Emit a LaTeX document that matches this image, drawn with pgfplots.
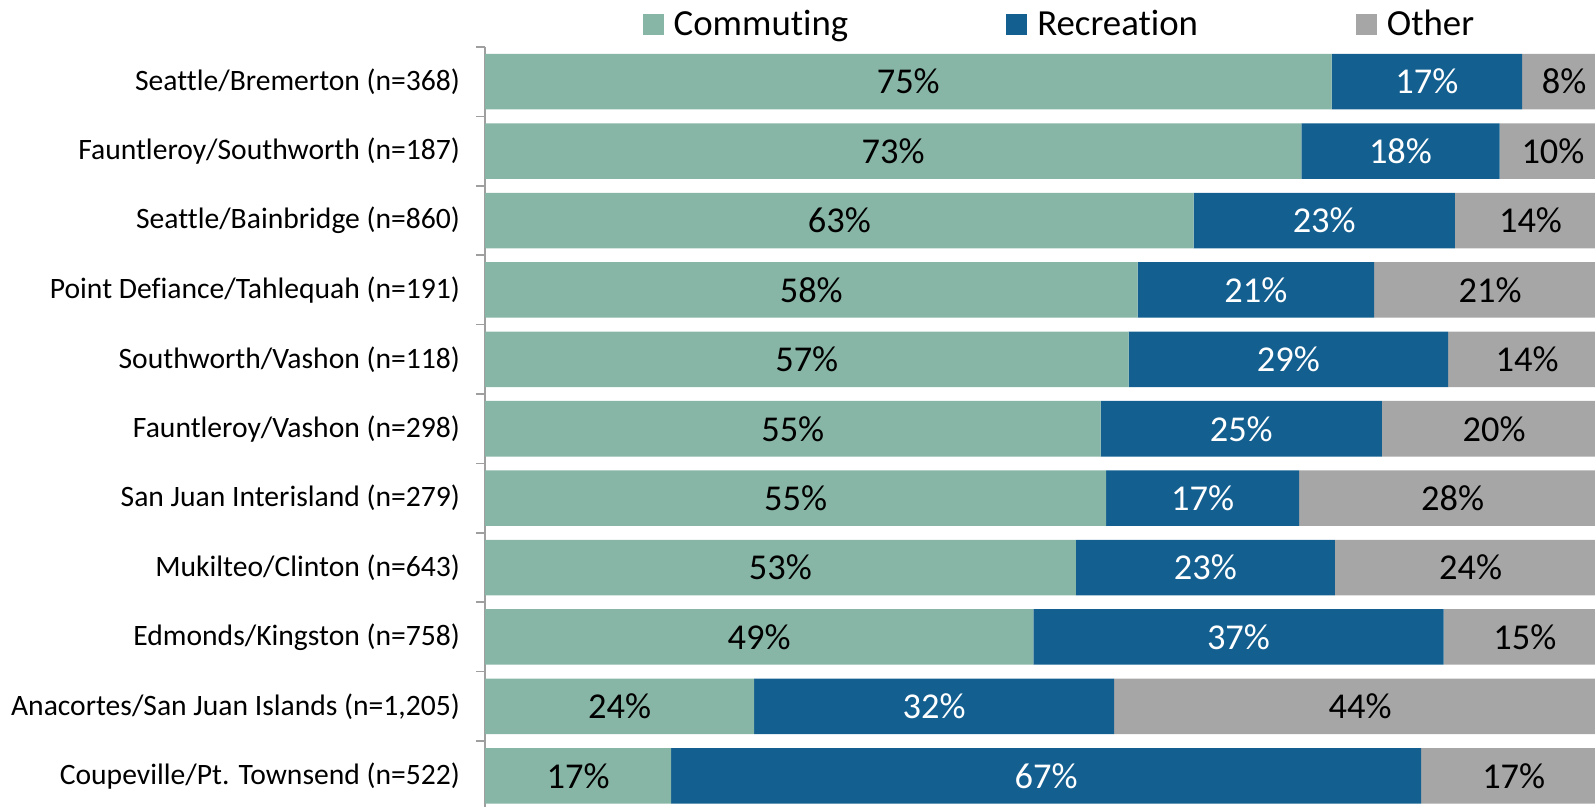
\documentclass[border=0pt]{standalone}
\usepackage{pgfplots}
\pgfplotsset{compat=1.18}
\usepackage{fontspec}
\setmainfont[Ligatures=NoCommon]{Carlito}
\definecolor{commute}{HTML}{88B6A6}
\definecolor{recreat}{HTML}{135F90}
\definecolor{othergr}{HTML}{A6A6A6}

\pgfplotsset{
  frame/.style={
    scale only axis, width=555pt, height=380pt,
    xmin=0, xmax=99, ymin=-0.5, ymax=10.45, y dir=reverse,
  },
  lbl/.style={
    draw=none, mark=none, nodes near coords, point meta=explicit symbolic,
    every node near coord/.append style={anchor=center, font=\fontsize{18.2}{20}\selectfont, text=#1},
  },
}

\begin{document}
\begin{tikzpicture}
\begin{axis}[
    frame,
    xbar stacked, bar width=0.8,
    axis x line=none, axis y line*=left,
    y axis line style={draw=gray!75, line width=0.8pt},
    ytick={0,...,10},
    yticklabels={
      {Seattle/Bremerton (n=368)},
      {Fauntleroy/Southworth (n=187)},
      {Seattle/Bainbridge (n=860)},
      {Point Defiance/Tahlequah (n=191)},
      {Southworth/Vashon (n=118)},
      {Fauntleroy/Vashon (n=298)},
      {San Juan Interisland (n=279)},
      {Mukilteo/Clinton (n=643)},
      {Edmonds/Kingston (n=758)},
      {Anacortes/San Juan Islands (n=1,205)},
      {Coupeville/Pt. Townsend (n=522)}},
    minor ytick={-0.5,0.5,...,9.5},
    major tick length=0pt, minor tick length=4.5pt, tick align=outside,
    tick style={draw=gray!75, line width=0.8pt},
    yticklabel style={font=\fontsize{14.8}{16}\selectfont, xshift=-9pt},
    legend columns=3,
    legend style={draw=none, fill=none, at={(0.5166,1.03)}, anchor=center,
      nodes={inner sep=0pt}, cells={anchor=base west},
      font=\fontsize{18.4}{20}\selectfont,
      /tikz/every odd column/.append style={column sep=5pt},
      /tikz/every even column/.append style={column sep=79pt}},
    legend image code/.code={\fill[#1] (0pt,0pt) rectangle (10.5pt,10.5pt);},
  ]
  % Commuting
  \addplot[fill=commute, draw=none] coordinates {
    (75.5,0) (72.8,1) (63.2,2) (58.2,3) (57.4,4) (54.9,5)
    (55.4,6) (52.7,7) (48.9,8) (24.0,9) (16.6,10)};
  % Recreation
  \addplot[fill=recreat, draw=none] coordinates {
    (17.0,0) (17.7,1) (23.3,2) (21.1,3) (28.5,4) (25.1,5)
    (17.2,6) (23.1,7) (36.6,8) (32.1,9) (66.9,10)};
  % Other
  \addplot[fill=othergr, draw=none] coordinates {
    (7.5,0) (9.5,1) (13.5,2) (20.7,3) (14.1,4) (20.0,5)
    (27.4,6) (24.2,7) (14.5,8) (43.9,9) (16.5,10)};
  \legend{Commuting, Recreation, Other}
\end{axis}
% labels centred in each segment
\begin{axis}[frame, hide axis]
  \addplot[lbl=black] coordinates {
    (37.75,0)[75\%] (36.4,1)[73\%] (31.6,2)[63\%] (29.1,3)[58\%]
    (28.7,4)[57\%] (27.45,5)[55\%] (27.7,6)[55\%] (26.35,7)[53\%]
    (24.45,8)[49\%] (12.0,9)[24\%] (8.3,10)[17\%]};
  \addplot[lbl=white] coordinates {
    (84.0,0)[17\%] (81.65,1)[18\%] (74.85,2)[23\%] (68.75,3)[21\%]
    (71.65,4)[29\%] (67.45,5)[25\%] (64.0,6)[17\%] (64.25,7)[23\%]
    (67.2,8)[37\%] (40.05,9)[32\%] (50.05,10)[67\%]};
  \addplot[lbl=black] coordinates {
    (96.25,0)[8\%] (95.25,1)[10\%] (93.25,2)[14\%] (89.65,3)[21\%]
    (92.95,4)[14\%] (90.0,5)[20\%] (86.3,6)[28\%] (87.9,7)[24\%]
    (92.75,8)[15\%] (78.05,9)[44\%] (91.75,10)[17\%]};
\end{axis}
\pgfresetboundingbox
\path[use as bounding box] ([xshift=-242.5pt,yshift=23.5pt]current axis.north west) rectangle (current axis.south east);
\end{tikzpicture}
\end{document}
